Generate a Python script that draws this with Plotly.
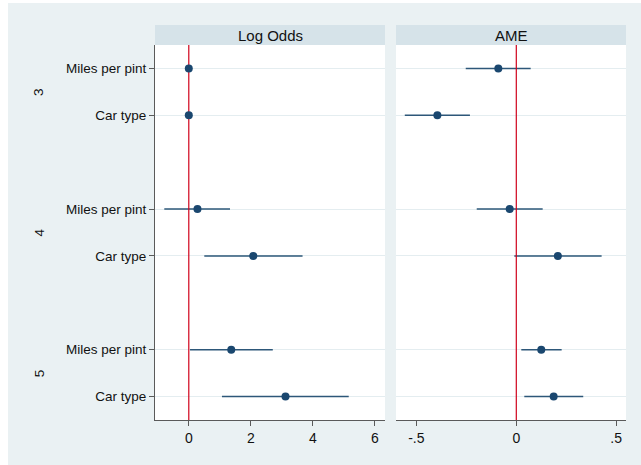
import plotly.graph_objects as go

# Outcome groups and predictors
groups = ["3", "4", "5"]
predictors = ["Miles per pint", "Car type"]

# Log odds estimates with 95% confidence limits (rows: 3/mpg, 3/type, 4/mpg, 4/type, 5/mpg, 5/type)
lo_est = [0.0, 0.0, 0.28, 2.08, 1.37, 3.12]
lo_low = [-0.02, -0.02, -0.79, 0.50, 0.04, 1.07]
lo_high = [0.02, 0.02, 1.33, 3.67, 2.71, 5.16]

# Average marginal effects with 95% confidence limits
ame_est = [-0.090, -0.395, -0.033, 0.208, 0.125, 0.187]
ame_low = [-0.253, -0.558, -0.198, -0.010, 0.025, 0.040]
ame_high = [0.072, -0.232, 0.132, 0.427, 0.227, 0.335]

# Axis ticks
lo_ticks = [0, 2, 4, 6]
lo_ticktext = ["0", "2", "4", "6"]
ame_ticks = [-0.5, 0, 0.5]
ame_ticktext = ["-.5", "0", ".5"]

# row positions: two predictors per group, one empty slot between groups
ypos = []
ylabels = []
for gi, g in enumerate(groups):
    for pi, p in enumerate(predictors):
        ypos.append(gi * 3 + pi + 1)
        ylabels.append(p)
group_centers = [gi * 3 + 1.5 for gi in range(len(groups))]

W, H = 641, 465
ML, MR, MT, MB = 155, 15, 45, 45
PW, PH = W - ML - MR, H - MT - MB
GAP = 11
d1 = [0, (PW - GAP) / 2 / PW]
d2 = [(PW + GAP) / 2 / PW, 1]

BG = "#eaf1f3"
HEAD = "#d6e3e9"
NAVY = "#1a476f"
CI = "#2d5779"
RED = "#d0021b"
AXIS = "#5a5a5a"
GRID = "#e4edf0"
FONT = "Liberation Sans, Arial, sans-serif"
YR = [8.5, 0.5]


def segments(lows, highs):
    xs, ys = [], []
    for a, b, y in zip(lows, highs, ypos):
        xs += [a, b, None]
        ys += [y, y, None]
    return xs, ys


fig = go.Figure()
for xa, est, low, high in [("x", lo_est, lo_low, lo_high), ("x2", ame_est, ame_low, ame_high)]:
    sx, sy = segments(low, high)
    fig.add_trace(go.Scatter(x=sx, y=sy, xaxis=xa, yaxis="y", mode="lines",
                             line=dict(color=CI, width=1.5), hoverinfo="skip", showlegend=False))
    fig.add_trace(go.Scatter(x=[0, 0], y=YR, xaxis=xa, yaxis="y", mode="lines",
                             line=dict(color=RED, width=1.2), hoverinfo="skip", showlegend=False))
    fig.add_trace(go.Scatter(x=est, y=ypos, xaxis=xa, yaxis="y", mode="markers",
                             marker=dict(color=NAVY, size=8, line=dict(width=0)), showlegend=False))

axis_common = dict(showline=True, linecolor=AXIS, linewidth=1, ticks="outside", ticklen=5,
                   tickcolor=AXIS, zeroline=False, showgrid=False,
                   tickfont=dict(family=FONT, size=14, color="#111"))

fig.update_layout(
    width=W, height=H,
    margin=dict(l=ML, r=MR, t=MT, b=MB),
    paper_bgcolor=BG, plot_bgcolor="white",
    font=dict(family=FONT, color="#111"),
    xaxis=dict(domain=d1, range=[-1.09, 6.33], tickvals=lo_ticks, ticktext=lo_ticktext,
               anchor="y", **axis_common),
    xaxis2=dict(domain=d2, range=[-0.602, 0.549], tickvals=ame_ticks, ticktext=ame_ticktext,
                anchor="y", **axis_common),
    yaxis=dict(range=YR, tickvals=ypos, ticktext=ylabels, showline=True, linecolor=AXIS,
               linewidth=1, ticks="outside", ticklen=5, tickcolor=AXIS, zeroline=False,
               showgrid=True, gridcolor=GRID, gridwidth=1,
               tickfont=dict(family=FONT, size=13.5, color="#111"), anchor="x"),
)

# panel header boxes and titles
head_top = 1 + 20 / PH
for dom, title in [(d1, "Log Odds"), (d2, "AME")]:
    fig.add_shape(type="rect", xref="paper", yref="paper", x0=dom[0], x1=dom[1],
                  y0=1, y1=head_top, fillcolor=HEAD, line=dict(width=0), layer="below")
    fig.add_annotation(xref="paper", yref="paper", x=(dom[0] + dom[1]) / 2, y=(1 + head_top) / 2,
                       text=title, showarrow=False, xanchor="center", yanchor="middle",
                       font=dict(family=FONT, size=15, color="#111"))

# white page edge on the left and top
fig.add_shape(type="rect", xref="paper", yref="paper", x0=-ML / PW, x1=(8 - ML) / PW,
              y0=-MB / PH, y1=1 + MT / PH, fillcolor="white", line=dict(width=0))
fig.add_shape(type="rect", xref="paper", yref="paper", x0=-ML / PW, x1=1 + MR / PW,
              y0=1 + (MT - 3) / PH, y1=1 + MT / PH, fillcolor="white", line=dict(width=0))

# group labels along the left
for g, yc in zip(groups, group_centers):
    fig.add_annotation(xref="paper", yref="y", x=(39 - ML) / PW, y=yc, text=g,
                       showarrow=False, textangle=-90, xanchor="center", yanchor="middle",
                       font=dict(family=FONT, size=13.5, color="#111"))

fig.write_html("out.html")
